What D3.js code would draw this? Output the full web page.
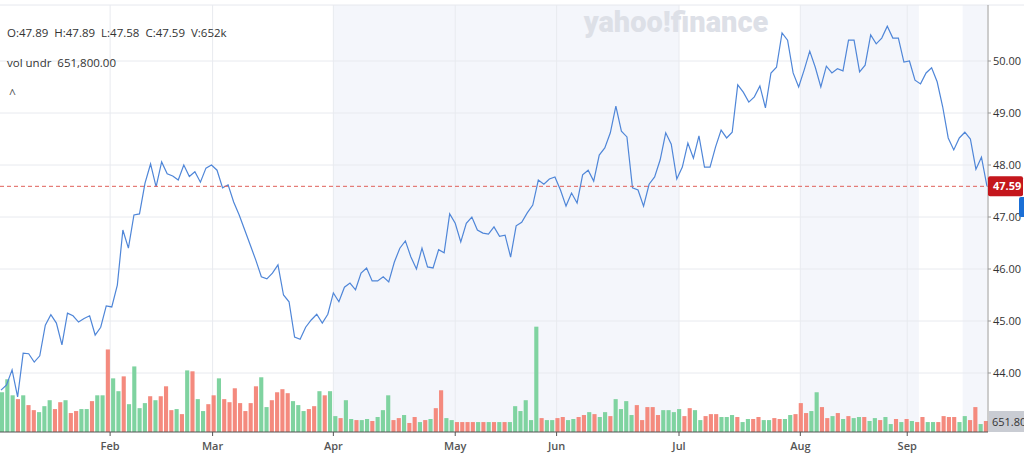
<!DOCTYPE html>
<html>
<head>
<meta charset="utf-8">
<script src="https://cdn.jsdelivr.net/npm/d3@7"></script>
<style>
  body { margin: 0; background: #fff; font-family: "Open Sans", "Liberation Sans", sans-serif; }
  svg { display: block; }
</style>
</head>
<body>
<div id="chart"></div>
<script>
"use strict";

// daily closes
const prices = [
  43.67,43.77,44.06,43.54,44.38,44.37,44.21,44.33,44.92,45.12,
  44.96,44.54,45.15,45.10,44.98,45.05,45.10,44.73,44.88,45.29,
  45.27,45.69,46.75,46.40,47.04,47.06,47.65,48.02,47.58,48.06,
  47.83,47.79,47.71,48.00,47.78,47.87,47.67,47.94,48.00,47.90,
  47.56,47.62,47.29,47.04,46.75,46.46,46.17,45.85,45.81,45.92,
  46.08,45.50,45.37,44.69,44.65,44.88,45.02,45.13,44.96,45.13,
  45.54,45.37,45.65,45.73,45.60,45.92,46.02,45.77,45.77,45.85,
  45.75,46.13,46.40,46.54,46.23,46.00,46.40,46.04,46.02,46.37,
  46.31,47.06,46.88,46.52,46.88,47.00,46.75,46.69,46.67,46.81,
  46.63,46.65,46.23,46.83,46.90,47.08,47.23,47.71,47.63,47.73,
  47.77,47.52,47.21,47.46,47.27,47.81,47.90,47.69,48.19,48.33,
  48.62,49.13,48.65,48.54,47.56,47.52,47.21,47.63,47.77,48.10,
  48.62,48.40,47.73,47.96,48.42,48.13,48.56,47.96,47.96,48.35,
  48.67,48.52,48.63,49.54,49.40,49.21,49.31,49.52,49.10,49.77,
  49.88,50.54,50.40,49.77,49.50,49.83,50.19,49.88,49.50,49.90,
  49.77,49.85,49.81,50.40,50.40,49.79,49.92,50.50,50.33,50.44,
  50.67,50.44,50.44,49.98,50.00,49.63,49.56,49.77,49.87,49.60,
  49.12,48.52,48.29,48.52,48.63,48.50,47.92,48.15,47.59
];

// daily volume, thousands of shares
const volumes = [
  2600,3450,2400,2150,2400,1760,1430,1300,1690,2080,
  1500,1950,2080,1240,1370,1500,1500,2020,2400,2400,
  5400,3510,2670,3640,1820,4290,1560,1890,2340,2080,
  2340,2990,1430,1500,1170,4030,3970,2150,1370,1820,
  2400,3510,2150,1950,2860,1890,1370,1890,2990,3580,
  1630,2080,2600,2800,2540,2020,1760,1370,1500,1690,
  2670,2400,2670,1040,910,2080,850,780,780,850,
  720,980,1430,2400,780,910,1110,590,980,650,
  780,850,1560,2730,910,780,650,650,650,650,
  650,650,650,650,650,650,650,1690,1370,2080,
  780,6890,910,780,780,910,
  980,780,850,980,1110,1300,1170,980,1300,1040,
  2150,1500,2020,1110,1760,780,1630,1630,1110,1430,
  1430,1300,1500,1040,1560,1430,780,1040,1170,1170,
  980,980,1110,980,650,850,850,980,780,780,
  910,850,850,1110,1170,1890,1240,1370,2600,1630,
  910,1040,1240,850,1040,910,980,980,720,910,
  780,980,520,850,650,850,720,650,980,650,
  650,650,1040,980,980,650,1040,780,1630,520,
  720
];

// 1 = close up (green), 0 = close down (red)
const volUp = [
  1,1,1,0,1,0,0,1,1,1, 0,0,1,0,0,1,1,0,1,1,
  0,1,1,0,1,1,1,1,0,1, 0,0,0,1,0,1,0,1,1,0,
  0,1,0,0,0,0,0,0,0,1, 1,0,0,0,0,1,1,1,0,0,
  1,0,1,1,0,1,1,0,1,1, 0,1,1,1,0,0,1,0,0,1,
  0,1,0,0,1,1,0,0,0,0, 1,0,1,0,1,0,1,1,1,1,
  1,1,0,1,1,0,
  0,1,1,0,0,1,0,1,1,0, 1,1,1,1,0,0,0,0,0,1,
  1,1,1,0,0,1,1,0,0,0, 1,1,1,0,1,1,0,0,1,1,
  0,0,1,1,0,0,0,1,1,0, 0,1,0,1,0,1,1,0,1,1,
  0,1,1,0,1,0,1,0,0,1, 1,0,0,0,0,1,1,0,0,1,
  0
];

const priceTicks = [44, 45, 46, 47, 48, 49, 50];
const monthLabels = ["Feb", "Mar", "Apr", "May", "Jun", "Jul", "Aug", "Sep"];
const monthIdx = [19.7, 38.2, 60.0, 82.0, 100.3, 122.4, 144.3, 163.6];
// shaded background ranges, in price-index units
const bands = [[60.0, 122.4], [144.3, 165.7], [173.6, 178]];
const lastClose = 47.59;

const W = 1024, H = 457;
const left = 0, right = 988, bottom = 432;

const svg = d3.select("#chart").append("svg")
    .attr("width", W).attr("height", H);

const x = d3.scaleLinear().domain([0, prices.length - 1]).range([left + 1, right - 1]);
const xv = d3.scaleBand().domain(d3.range(volumes.length)).range([left, right]).paddingInner(0.22);
const y = d3.scaleLinear().domain([44, 50]).range([373, 61]);
const yv = d3.scaleLinear().domain([0, 7000]).range([bottom, 325]);

// background bands
svg.selectAll(".band").data(bands).enter().append("rect")
    .attr("x", d => x(d[0])).attr("width", d => x(d[1]) - x(d[0]))
    .attr("y", 5).attr("height", bottom - 5)
    .style("fill", "#f4f6fb");

// top border
svg.append("line").attr("x1", 0).attr("x2", W).attr("y1", 5).attr("y2", 5)
    .style("stroke", "#e6e8ee");

// grid
svg.selectAll(".hgrid").data(priceTicks).enter().append("line")
    .attr("x1", left).attr("x2", right)
    .attr("y1", d => y(d)).attr("y2", d => y(d))
    .style("stroke", "#e8eaef");
svg.selectAll(".vgrid").data(monthIdx).enter().append("line")
    .attr("x1", d => x(d)).attr("x2", d => x(d))
    .attr("y1", 5).attr("y2", bottom)
    .style("stroke", "#e8eaef");

// watermark
svg.append("text").attr("x", 676).attr("y", 32)
    .attr("text-anchor", "middle")
    .style("font-family", "Roboto, sans-serif").style("font-weight", 900)
    .style("font-size", "29px").style("fill", "#dde0e7")
    .text("yahoo!finance");

// volume bars
svg.selectAll(".vol").data(volumes).enter().append("rect")
    .attr("x", (d, i) => xv(i)).attr("width", xv.bandwidth())
    .attr("y", d => yv(d)).attr("height", d => bottom - yv(d))
    .style("fill", (d, i) => volUp[i] ? "#7fd3a0" : "#f48a7e");

// price line
svg.append("path").datum(prices)
    .attr("d", d3.line().x((d, i) => x(i)).y(d => y(d)))
    .style("fill", "none").style("stroke", "#4f86d8").style("stroke-width", 1.2);

// last close dashed line
svg.append("line").attr("x1", left).attr("x2", right)
    .attr("y1", y(lastClose)).attr("y2", y(lastClose))
    .style("stroke", "#e0605a").style("stroke-dasharray", "4,3");

// axes lines
svg.append("line").attr("x1", right).attr("x2", right).attr("y1", 5).attr("y2", bottom)
    .style("stroke", "#999");
svg.append("line").attr("x1", left).attr("x2", right).attr("y1", bottom).attr("y2", bottom)
    .style("stroke", "#555");

// right axis labels
svg.selectAll(".ptick").data(priceTicks).enter().append("text")
    .attr("x", right + 5).attr("y", d => y(d) + 4)
    .style("font-size", "11px").style("fill", "#333")
    .text(d => d.toFixed(2));
svg.selectAll(".ptickmark").data(priceTicks).enter().append("line")
    .attr("x1", right).attr("x2", right + 3)
    .attr("y1", d => y(d)).attr("y2", d => y(d))
    .style("stroke", "#999");

// month labels
svg.selectAll(".mtick").data(monthIdx).enter().append("line")
    .attr("x1", d => x(d)).attr("x2", d => x(d))
    .attr("y1", bottom).attr("y2", bottom + 4)
    .style("stroke", "#555");
svg.selectAll(".mlabel").data(monthLabels).enter().append("text")
    .attr("x", (d, i) => x(monthIdx[i])).attr("y", 450)
    .attr("text-anchor", "middle")
    .style("font-size", "11px").style("font-weight", 600).style("fill", "#555")
    .text(d => d);

// last price tag
svg.append("rect").attr("x", right).attr("y", y(lastClose) - 10)
    .attr("width", 35).attr("height", 20).attr("rx", 2)
    .style("fill", "#c4161c");
svg.append("text").attr("x", right + 5).attr("y", y(lastClose) + 4)
    .style("font-size", "11px").style("font-weight", 700).style("fill", "#fff")
    .text(lastClose.toFixed(2));
svg.append("rect").attr("x", 1019).attr("y", 197).attr("width", 8).attr("height", 20)
    .attr("rx", 2).style("fill", "#1a6fd6");

// volume tag
svg.append("rect").attr("x", right + 1).attr("y", 411).attr("width", 36).attr("height", 21)
    .style("fill", "#c9ccd3");
svg.append("text").attr("x", right + 4).attr("y", 426)
    .style("font-size", "11px").style("fill", "#333")
    .text("651.80");

// legend text
svg.append("text").attr("x", 7).attr("y", 37)
    .style("font-size", "11.5px").style("fill", "#333").attr("xml:space", "preserve")
    .text("O:47.89  H:47.89  L:47.58  C:47.59  V:652k");
svg.append("text").attr("x", 7).attr("y", 67)
    .style("font-size", "11.5px").style("fill", "#333").attr("xml:space", "preserve")
    .text("vol undr  651,800.00");
svg.append("text").attr("x", 9).attr("y", 98)
    .style("font-size", "12px").style("fill", "#555")
    .text("^");
</script>
</body>
</html>
